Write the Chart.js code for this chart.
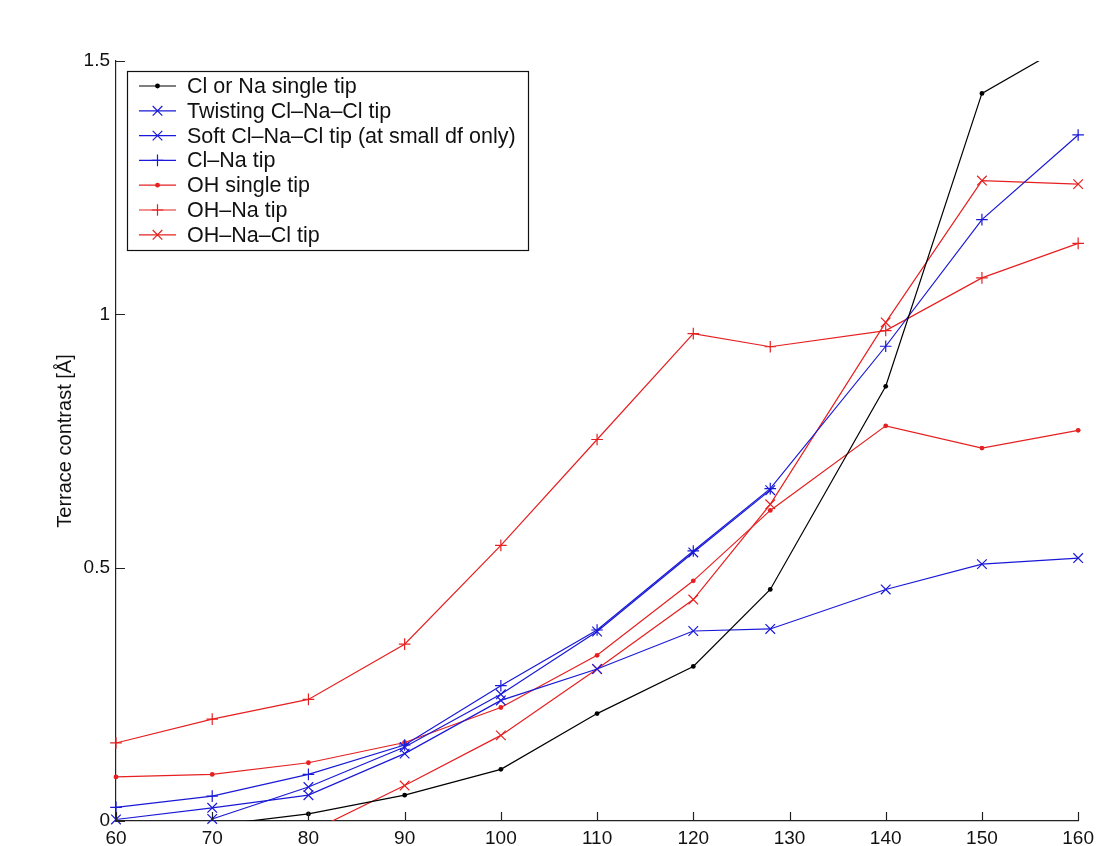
<!DOCTYPE html>
<html>
<head>
<meta charset="utf-8">
<script src="https://cdn.jsdelivr.net/npm/chart.js@4/dist/chart.umd.min.js"></script>
<style>
  html, body { margin: 0; padding: 0; background: #fff; }
  #wrap { width: 1100px; height: 846px; position: relative; }
</style>
</head>
<body>
<div id="wrap"><canvas id="c" width="1100" height="846"></canvas></div>
<script>
// Frequency-shift setpoints (x) and terrace contrast values (y, Å)
const dfAll = [60, 70, 80, 90, 100, 110, 120, 128, 140, 150, 160];

const clNaSingleDf = [70, 80, 90, 100, 110, 120, 128, 140, 150, 160];
const clNaSingle   = [-0.009, 0.014, 0.051, 0.102, 0.212, 0.305, 0.457, 0.858, 1.436, 1.545];

const twistingClNaCl = [0.003, 0.026, 0.051, 0.133, 0.238, 0.300, 0.375, 0.379, 0.457, 0.507, 0.519];

const softClNaClDf = [70, 80, 90, 100, 110, 120, 128];
const softClNaCl   = [0.004, 0.067, 0.146, 0.250, 0.374, 0.530, 0.653];

const clNaTip   = [0.027, 0.049, 0.092, 0.150, 0.267, 0.377, 0.533, 0.656, 0.937, 1.187, 1.354];
const ohSingle  = [0.087, 0.092, 0.115, 0.155, 0.224, 0.327, 0.474, 0.613, 0.780, 0.736, 0.771];
const ohNaTip   = [0.154, 0.201, 0.240, 0.349, 0.544, 0.753, 0.962, 0.936, 0.968, 1.072, 1.140];

const ohNaClDf = [80, 90, 100, 110, 120, 128, 140, 150, 160];
const ohNaCl   = [-0.023, 0.070, 0.169, 0.300, 0.437, 0.625, 0.984, 1.264, 1.257];

const yTicks = [0, 0.5, 1, 1.5];
const xTicks = [60, 70, 80, 90, 100, 110, 120, 130, 140, 150, 160];

const labels = [
  'Cl or Na single tip',
  'Twisting Cl–Na–Cl tip',
  'Soft Cl–Na–Cl tip (at small df only)',
  'Cl–Na tip',
  'OH single tip',
  'OH–Na tip',
  'OH–Na–Cl tip'
];

const BLACK = '#000000';
const BLUE = 'rgb(25,25,215)';
const RED = 'rgb(230,32,32)';
const FONT = '"Liberation Sans", Arial, Helvetica, sans-serif';

const pts = (xs, ys) => xs.map((x, i) => ({ x: x, y: ys[i] }));

// marker kinds: dot, x, plus
function series(label, xs, ys, color, marker, clip) {
  const styleMap = { dot: 'circle', x: 'crossRot', plus: 'cross' };
  const radiusMap = { dot: 2.4, x: 6.8, plus: 5.8 };
  return {
    label: label,
    data: pts(xs, ys),
    borderColor: color,
    backgroundColor: color,
    borderWidth: 1.2,
    pointStyle: styleMap[marker],
    pointRadius: radiusMap[marker],
    pointBorderWidth: marker === 'dot' ? 0 : 1.2,
    pointBorderColor: color,
    pointBackgroundColor: color,
    tension: 0,
    fill: false,
    clip: clip,
    marker: marker
  };
}

// markers may overhang the axes; lines that leave the range are cut at the axes
const looseClip = { left: 10, right: 10, top: 0, bottom: 10 };
const tightClip = { left: 10, right: 10, top: 0, bottom: 0 };

const datasets = [
  series(labels[0], clNaSingleDf, clNaSingle, BLACK, 'dot', tightClip),
  series(labels[1], dfAll, twistingClNaCl, BLUE, 'x', looseClip),
  series(labels[2], softClNaClDf, softClNaCl, BLUE, 'x', looseClip),
  series(labels[3], dfAll, clNaTip, BLUE, 'plus', looseClip),
  series(labels[4], dfAll, ohSingle, RED, 'dot', looseClip),
  series(labels[5], dfAll, ohNaTip, RED, 'plus', looseClip),
  series(labels[6], ohNaClDf, ohNaCl, RED, 'x', tightClip)
];

// Inward-pointing tick marks on both axes
const inwardTicks = {
  id: 'inwardTicks',
  afterDatasetsDraw(chart) {
    const { ctx, chartArea, scales } = chart;
    const len = 9;
    ctx.save();
    ctx.strokeStyle = '#222';
    ctx.lineWidth = 1.2;
    ctx.beginPath();
    xTicks.forEach(v => {
      const px = Math.round(scales.x.getPixelForValue(v)) + 0.5;
      ctx.moveTo(px, chartArea.bottom);
      ctx.lineTo(px, chartArea.bottom - len);
    });
    yTicks.forEach(v => {
      const py = Math.round(scales.y.getPixelForValue(v)) + 0.5;
      ctx.moveTo(chartArea.left, py);
      ctx.lineTo(chartArea.left + len, py);
    });
    ctx.stroke();
    ctx.restore();
  }
};

function drawMarker(ctx, kind, x, y, color) {
  ctx.save();
  ctx.strokeStyle = color;
  ctx.fillStyle = color;
  ctx.lineWidth = 1.2;
  if (kind === 'dot') {
    ctx.beginPath();
    ctx.arc(x, y, 2.4, 0, Math.PI * 2);
    ctx.fill();
  } else if (kind === 'x') {
    const r = 4.8;
    ctx.beginPath();
    ctx.moveTo(x - r, y - r); ctx.lineTo(x + r, y + r);
    ctx.moveTo(x - r, y + r); ctx.lineTo(x + r, y - r);
    ctx.stroke();
  } else {
    const r = 5.8;
    ctx.beginPath();
    ctx.moveTo(x - r, y); ctx.lineTo(x + r, y);
    ctx.moveTo(x, y - r); ctx.lineTo(x, y + r);
    ctx.stroke();
  }
  ctx.restore();
}

// Boxed legend with line + marker samples, inside the plot area
const boxedLegend = {
  id: 'boxedLegend',
  afterDraw(chart) {
    const { ctx, chartArea } = chart;
    const bx = chartArea.left + 11, by = chartArea.top + 10;
    const bw = 401, bh = 179;
    ctx.save();
    ctx.fillStyle = '#fff';
    ctx.fillRect(bx, by, bw, bh);
    ctx.strokeStyle = '#111';
    ctx.lineWidth = 1.2;
    ctx.strokeRect(bx + 0.5, by + 0.5, bw, bh);
    ctx.font = '21.5px ' + FONT;
    ctx.textBaseline = 'middle';
    ctx.textAlign = 'left';
    chart.data.datasets.forEach((ds, i) => {
      const cy = by + 15 + i * 24.8;
      ctx.strokeStyle = ds.borderColor;
      ctx.lineWidth = 1.2;
      ctx.beginPath();
      ctx.moveTo(bx + 12, cy);
      ctx.lineTo(bx + 49, cy);
      ctx.stroke();
      drawMarker(ctx, ds.marker, bx + 30.5, cy, ds.borderColor);
      ctx.fillStyle = '#111';
      ctx.fillText(ds.label, bx + 60, cy + 1);
    });
    ctx.restore();
  }
};

new Chart(document.getElementById('c'), {
  type: 'line',
  data: { datasets: datasets },
  options: {
    responsive: false,
    animation: false,
    events: [],
    layout: { padding: { left: 0, right: 18, top: 61, bottom: 0 } },
    plugins: { legend: { display: false }, tooltip: { enabled: false } },
    scales: {
      x: {
        type: 'linear',
        min: 60, max: 160,
        afterBuildTicks(scale) { scale.ticks = xTicks.map(v => ({ value: v })); },
        afterFit(scale) { scale.height = 25; },
        grid: { display: false, drawTicks: false },
        border: { display: true, color: '#222', width: 1.2 },
        ticks: { color: '#111', font: { family: FONT, size: 19 }, padding: 6, maxRotation: 0 }
      },
      y: {
        type: 'linear',
        min: 0, max: 1.5,
        afterBuildTicks(scale) { scale.ticks = yTicks.map(v => ({ value: v })); },
        afterFit(scale) { scale.width = 116; },
        grid: { display: false, drawTicks: false },
        border: { display: true, color: '#222', width: 1.2 },
        ticks: {
          color: '#111', font: { family: FONT, size: 19 }, padding: 6,
          callback: v => String(v)
        },
        title: {
          display: true,
          text: 'Terrace contrast [Å]',
          color: '#111',
          font: { family: FONT, size: 20 },
          padding: { top: 53, bottom: 0 }
        }
      }
    }
  },
  plugins: [inwardTicks, boxedLegend]
});
</script>
</body>
</html>
